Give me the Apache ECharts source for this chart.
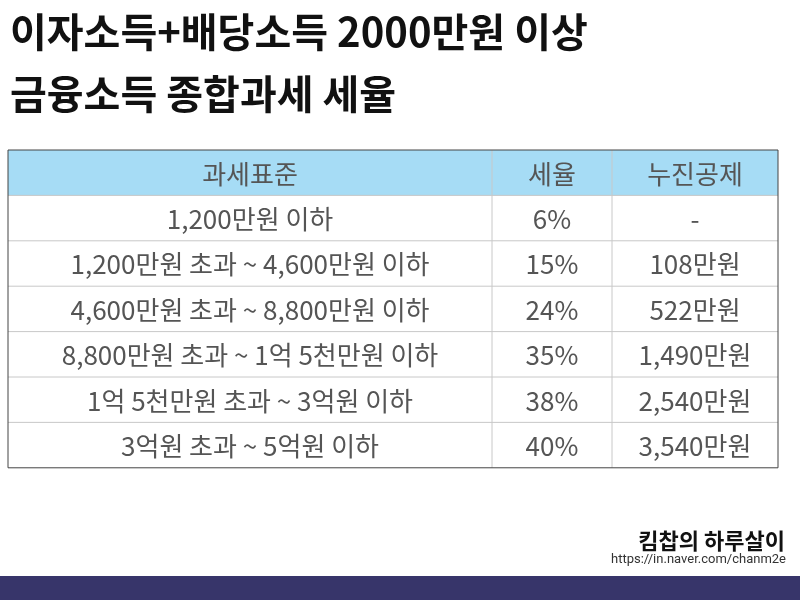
<!DOCTYPE html>
<html><head><meta charset="utf-8">
<script src="https://cdn.jsdelivr.net/npm/echarts@6/dist/echarts.min.js"></script>
<style>html,body{margin:0;padding:0;background:#fff}#main{width:800px;height:600px}</style>
</head><body><div id="main"></div>
<script>
var titleLines = ['이자소득+배당소득 2000만원 이상', '금융소득 종합과세 세율'];
var headers = ['과세표준', '세율', '누진공제'];
var brackets = ['1,200만원 이하', '1,200만원 초과 ~ 4,600만원 이하', '4,600만원 초과 ~ 8,800만원 이하',
  '8,800만원 초과 ~ 1억 5천만원 이하', '1억 5천만원 초과 ~ 3억원 이하', '3억원 초과 ~ 5억원 이하'];
var rates = ['6%', '15%', '24%', '35%', '38%', '40%'];
var deductions = ['-', '108만원', '522만원', '1,490만원', '2,540만원', '3,540만원'];

var font = '"Noto Sans CJK KR", sans-serif';
var colX = [8, 492, 612, 778];
var tableTop = 150, rowH = 45.4;
var rows = [headers];
for (var i = 0; i < brackets.length; i++) rows.push([brackets[i], rates[i], deductions[i]]);
var tableBottom = tableTop + rowH * rows.length;

var g = [];
titleLines.forEach(function (t, i) {
  g.push({ type: 'text', left: 10, top: 12 + i * 62, style: { text: t, font: 'bold 40px ' + font, fill: '#111' } });
});
g.push({ type: 'rect', shape: { x: colX[0], y: tableTop, width: colX[3] - colX[0], height: rowH }, style: { fill: '#a6dcf5' } });
rows.forEach(function (r, ri) {
  r.forEach(function (c, ci) {
    g.push({ type: 'text', x: (colX[ci] + colX[ci + 1]) / 2, y: tableTop + rowH * ri + rowH / 2 + 1,
      style: { text: c, font: '26px ' + font, fill: '#555', align: 'center', verticalAlign: 'middle' } });
  });
  if (ri > 0) g.push({ type: 'line', shape: { x1: colX[0], y1: tableTop + rowH * ri, x2: colX[3], y2: tableTop + rowH * ri }, style: { stroke: '#c8c8c8', lineWidth: 1 } });
});
[1, 2].forEach(function (k) {
  g.push({ type: 'line', shape: { x1: colX[k], y1: tableTop, x2: colX[k], y2: tableBottom }, style: { stroke: '#c8c8c8', lineWidth: 1 } });
});
g.push({ type: 'rect', shape: { x: colX[0], y: tableTop, width: colX[3] - colX[0], height: tableBottom - tableTop }, style: { fill: 'none', stroke: '#444', lineWidth: 1 } });
g.push({ type: 'text', x: 785, y: 541, style: { text: '킴찹의 하루살이', font: 'bold 22px ' + font, fill: '#111', align: 'right', verticalAlign: 'middle' } });
g.push({ type: 'text', x: 786, y: 560, style: { text: 'https://in.naver.com/chanm2e', font: '13px Roboto, sans-serif', fill: '#333', align: 'right', verticalAlign: 'middle' } });
g.push({ type: 'rect', shape: { x: 0, y: 576, width: 800, height: 24 }, style: { fill: '#37356a' } });

var chart = echarts.init(document.getElementById('main'));
chart.setOption({ backgroundColor: '#fff', graphic: g });
</script></body></html>
